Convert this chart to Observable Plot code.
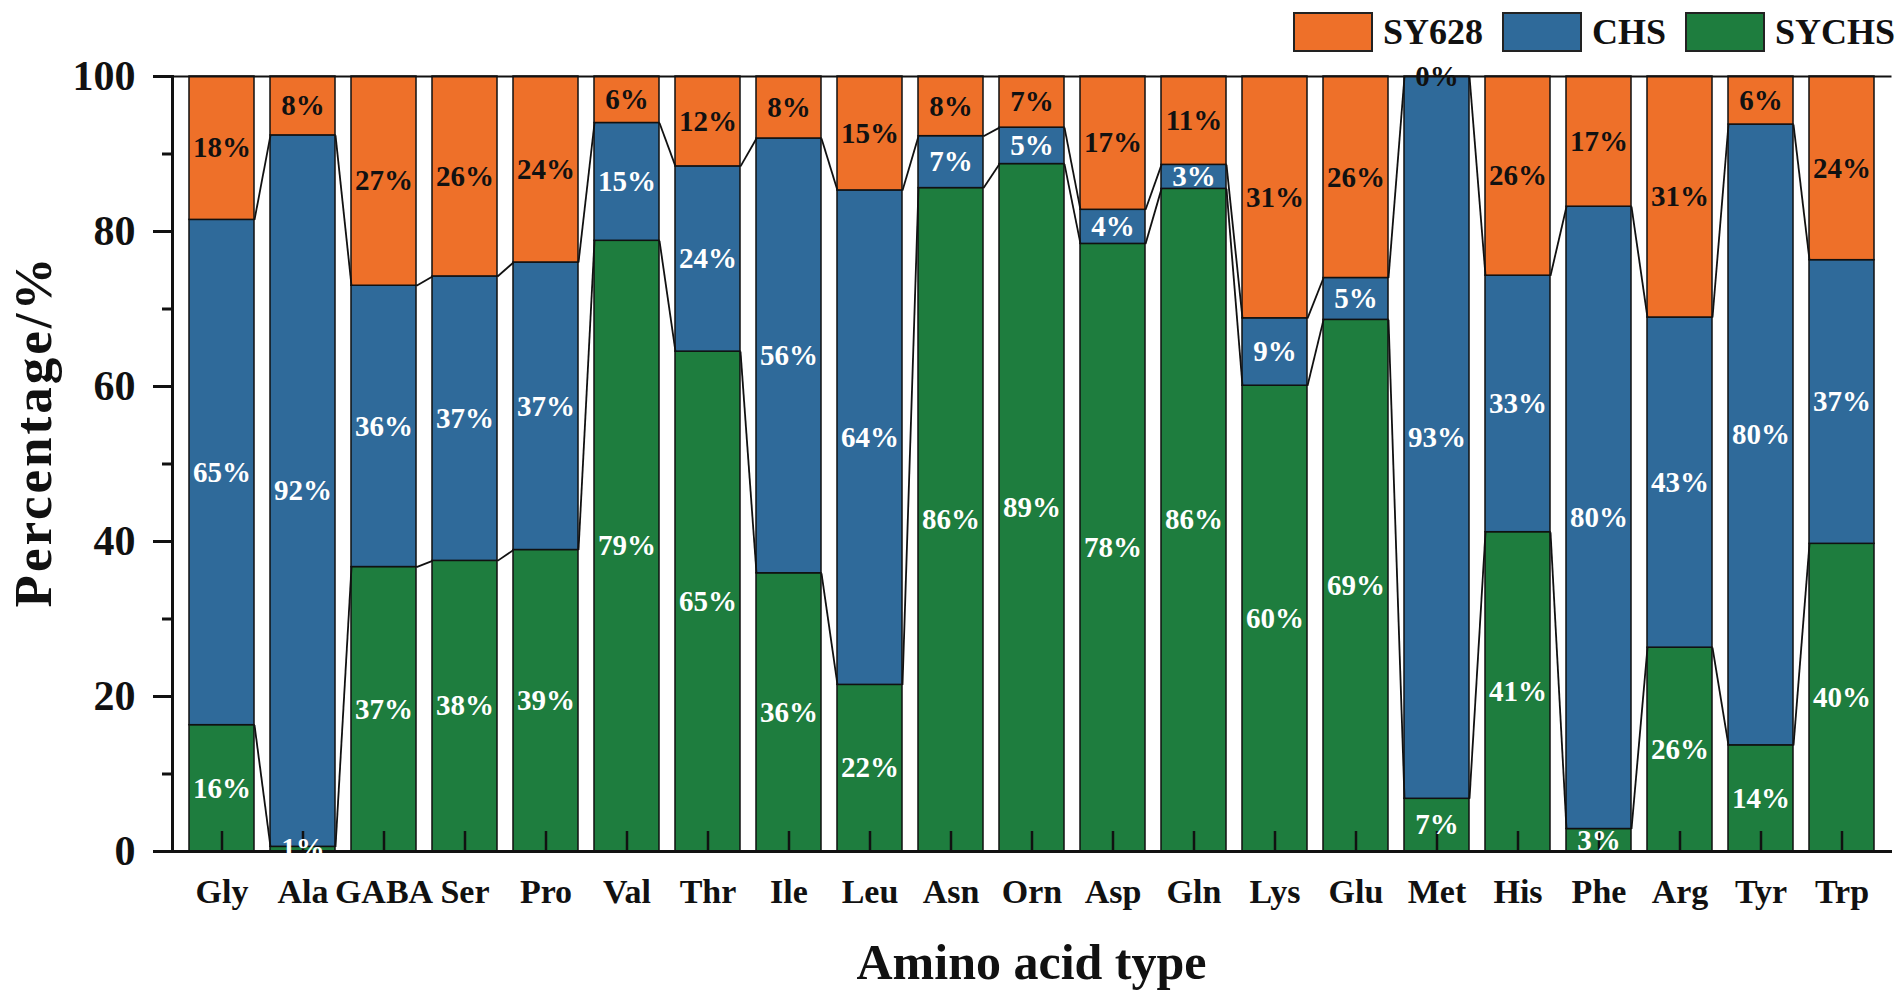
<!DOCTYPE html>
<html><head><meta charset="utf-8">
<script src="https://cdn.jsdelivr.net/npm/d3@7"></script>
<script src="https://cdn.jsdelivr.net/npm/@observablehq/plot@0.6"></script>
<style>
html,body{margin:0;padding:0;background:#fff;}
#wrap{position:relative;width:1902px;height:1001px;font-family:"Liberation Serif","Times New Roman",serif;font-weight:bold;}
#legend{position:absolute;top:12px;left:1293px;display:flex;align-items:center;font-size:36px;color:#111;z-index:2;}
.sw{width:80px;height:40px;box-sizing:border-box;border:2px solid #222;margin-right:10px;}
.lt{margin-right:19px;line-height:40px;}
</style></head><body><div id="wrap"><div id="legend"></div></div>
<script>
const aminoAcids = ["Gly","Ala","GABA","Ser","Pro","Val","Thr","Ile","Leu","Asn","Orn","Asp","Gln","Lys","Glu","Met","His","Phe","Arg","Tyr","Trp"];
const sychs = [16.3,0.6,36.7,37.5,38.9,78.8,64.5,35.9,21.5,85.6,88.7,78.4,85.5,60.1,68.6,6.8,41.2,2.9,26.3,13.7,39.7];
const chs   = [65.2,91.8,36.3,36.7,37.1,15.2,23.9,56.1,63.8,6.7,4.7,4.4,3.1,8.7,5.4,93.2,33.1,80.3,42.6,80.1,36.6];
const sy628 = [18.5,7.6,27.0,25.8,24.0,6.0,11.6,8.0,14.7,7.7,6.6,17.2,11.4,31.2,26.0,0,25.7,16.8,31.1,6.2,23.7];
const labelSYCHS = ["16%","1%","37%","38%","39%","79%","65%","36%","22%","86%","89%","78%","86%","60%","69%","7%","41%","3%","26%","14%","40%"];
const labelCHS   = ["65%","92%","36%","37%","37%","15%","24%","56%","64%","7%","5%","4%","3%","9%","5%","93%","33%","80%","43%","80%","37%"];
const labelSY628 = ["18%","8%","27%","26%","24%","6%","12%","8%","15%","8%","7%","17%","11%","31%","26%","0%","26%","17%","31%","6%","24%"];
const seriesNames = ["SY628","CHS","SYCHS"];
const seriesColors = ["#EE7029","#2F6A9A","#1E7D3E"];
const yTicks = [0,20,40,60,80,100];
const yMinorTicks = [10,30,50,70,90];
const xTitle = "Amino acid type";
const yTitle = "Percentage/%";

// build stacked segments
const rows = [];
aminoAcids.forEach((a, i) => {
  const b1 = sychs[i], b2 = sychs[i] + chs[i], b3 = b2 + sy628[i];
  rows.push({amino: a, series: "SYCHS", y1: 0, y2: b1, label: labelSYCHS[i]});
  rows.push({amino: a, series: "CHS", y1: b1, y2: b2, label: labelCHS[i]});
  rows.push({amino: a, series: "SY628", y1: b2, y2: b3, label: labelSY628[i]});
});
// connectors between adjacent bars at the stack boundaries
const links = [];
const bounds = [sychs, sychs.map((v, i) => v + chs[i])];
bounds.forEach(bd => {
  for (let i = 0; i < aminoAcids.length - 1; i++) {
    links.push({a: aminoAcids[i], b: aminoAcids[i + 1], v1: bd[i], v2: bd[i + 1]});
  }
});

const chart = Plot.plot({
  width: 1902, height: 1001,
  marginTop: 76, marginBottom: 150, marginLeft: 172, marginRight: 12,
  style: {fontFamily: "'Liberation Serif','Times New Roman',serif", fontWeight: "bold", background: "white", color: "#111"},
  x: {domain: aminoAcids, paddingInner: 0.2, paddingOuter: 0.12, align: 0.5},
  y: {domain: [0, 100]},
  color: {domain: seriesNames, range: seriesColors},
  marks: [
    Plot.barY(rows, {x: "amino", y1: "y1", y2: "y2", fill: "series", stroke: "#111", strokeWidth: 1.5}),
    Plot.link(links, {
      x1: "a", x2: "b", y1: "v1", y2: "v2", stroke: "#111", strokeWidth: 1.8,
      render(index, scales, values, dimensions, context, next) {
        const x = scales.x;
        const bw = x.bandwidth();
        // the link group is already offset by half a band (centred), so shift back to edges
        const X1 = new Float64Array(links.length);
        const X2 = new Float64Array(links.length);
        for (const i of index) {
          X1[i] = x(links[i].a) + bw / 2;
          X2[i] = x(links[i].b) - bw / 2;
        }
        return next(index, scales, {...values, x1: X1, x2: X2}, dimensions, context);
      }
    }),
    Plot.ruleX(aminoAcids, {x: d => d, y1: 0, y2: 0, insetTop: -20, strokeWidth: 2.5, stroke: "#111"}),
    Plot.frame({anchor: "top", strokeWidth: 2}),
    Plot.frame({anchor: "left", strokeWidth: 3}),
    Plot.frame({anchor: "bottom", strokeWidth: 3}),
    Plot.axisY({ticks: yTicks, tickSize: 19, tickPadding: 18, fontSize: 42, strokeWidth: 3, label: null}),
    Plot.axisY({ticks: yMinorTicks, tickSize: 10, tickFormat: () => "", strokeWidth: 3, label: null}),
    Plot.axisX({tickSize: 0, tickPadding: 27, fontSize: 34, label: null}),
    Plot.text(rows.filter(d => d.series === "SY628"), {x: "amino", y: d => (d.y1 + d.y2) / 2, text: "label", fill: "#111", fontSize: 29, fontWeight: "bold"}),
    Plot.text(rows.filter(d => d.series !== "SY628"), {x: "amino", y: d => (d.y1 + d.y2) / 2, text: "label", fill: "white", fontSize: 29, fontWeight: "bold"}),
    Plot.text([xTitle], {frameAnchor: "bottom", dy: 127, fontSize: 50, fontWeight: "bold"}),
    Plot.text([yTitle], {frameAnchor: "left", textAnchor: "middle", dx: -138, dy: -33, rotate: -90, fontSize: 53, fontWeight: "bold"})
  ]
});
document.getElementById("wrap").appendChild(chart);
d3.select(chart).selectAll("text").filter(function(){ return this.textContent === yTitle; }).style("letter-spacing", "3px");

const legend = document.getElementById("legend");
seriesNames.forEach((s, i) => {
  const sw = document.createElement("div");
  sw.className = "sw"; sw.style.background = seriesColors[i];
  const t = document.createElement("div");
  t.className = "lt"; t.textContent = s;
  if (i === seriesNames.length - 1) t.style.marginRight = "0";
  legend.appendChild(sw); legend.appendChild(t);
});
</script></body></html>
